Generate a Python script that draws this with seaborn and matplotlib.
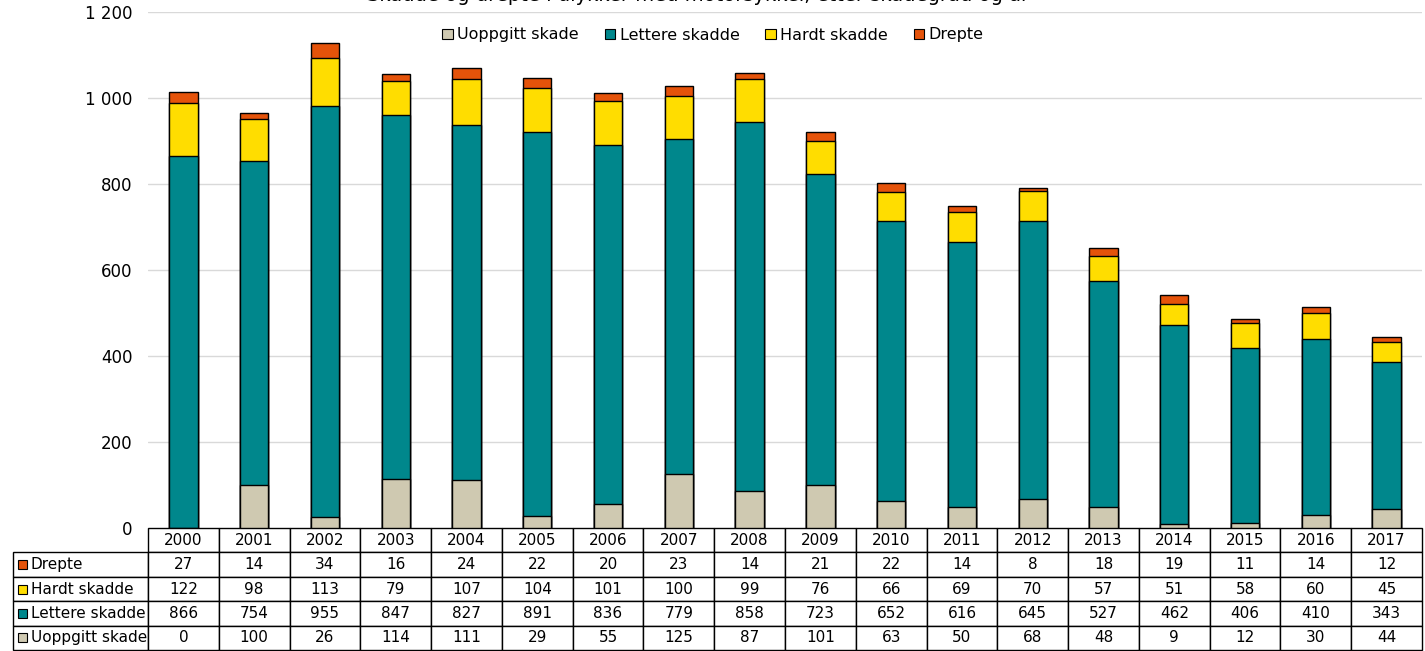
import matplotlib
matplotlib.use("Agg")
import matplotlib.pyplot as plt
import seaborn as sns
import numpy as np
import pandas as pd
from matplotlib.patches import Patch, Rectangle
from matplotlib.ticker import FuncFormatter

# ---- data ----
years = [str(y) for y in range(2000, 2018)]
drepte = [27, 14, 34, 16, 24, 22, 20, 23, 14, 21, 22, 14, 8, 18, 19, 11, 14, 12]
hardt = [122, 98, 113, 79, 107, 104, 101, 100, 99, 76, 66, 69, 70, 57, 51, 58, 60, 45]
lettere = [866, 754, 955, 847, 827, 891, 836, 779, 858, 723, 652, 616, 645, 527, 462, 406, 410, 343]
uoppgitt = [0, 100, 26, 114, 111, 29, 55, 125, 87, 101, 63, 50, 68, 48, 9, 12, 30, 44]
series_names = ["Uoppgitt skade", "Lettere skadde", "Hardt skadde", "Drepte"]
title = "Skadde og drepte i ulykker med motorsykkel, etter skadegrad og år"

colors = {
    "Uoppgitt skade": "#CFC9B1",
    "Lettere skadde": "#00878C",
    "Hardt skadde": "#FFDD00",
    "Drepte": "#E5530A",
}

sns.set_theme(style="white")
plt.rcParams["font.family"] = ["DejaVu Sans"]
plt.rcParams["text.color"] = "black"
plt.rcParams["axes.labelcolor"] = "black"
plt.rcParams["xtick.color"] = "black"
plt.rcParams["ytick.color"] = "black"

W, H = 1425, 651
fig = plt.figure(figsize=(W / 100, H / 100), dpi=100)
ax_l, ax_r, ax_t, ax_b = 148, 1422, 12, 528
ax = fig.add_axes([ax_l / W, 1 - ax_b / H, (ax_r - ax_l) / W, (ax_b - ax_t) / H])

df = pd.DataFrame({
    "year": years,
    "Uoppgitt skade": uoppgitt,
    "Lettere skadde": lettere,
    "Hardt skadde": hardt,
    "Drepte": drepte,
})
cum = df[series_names].cumsum(axis=1)

# draw cumulative bars from top layer to bottom layer (overlap-stacking)
for name in reversed(series_names):
    sns.barplot(x=df["year"], y=cum[name], order=years, color=colors[name],
                saturation=1, edgecolor="black", linewidth=1, width=0.4, ax=ax,
                zorder=3)

ax.set_ylim(0, 1200)
ax.set_xlim(-0.5, len(years) - 0.5)
ax.set_yticks(range(0, 1201, 200))
ax.yaxis.set_major_formatter(FuncFormatter(lambda v, p: f"{v:,.0f}".replace(",", " ")))
ax.tick_params(axis="y", length=0, pad=11, labelsize=12, colors="black")
ax.set_xticks([])
ax.set_xlabel("")
ax.set_ylabel("")
ax.grid(axis="y", color="#D9D9D9", linewidth=1, zorder=0)
ax.set_axisbelow(True)
for s in ax.spines.values():
    s.set_visible(False)

# ---- data table ----
rows = [("Drepte", drepte), ("Hardt skadde", hardt),
        ("Lettere skadde", lettere), ("Uoppgitt skade", uoppgitt)]
cell_text = [[name] + [str(v) for v in vals] for name, vals in rows]
col_labels = [""] + years
label_w_px = 135
tab_left_px = 13
ax_w_px = ax_r - ax_l
ax_h_px = ax_b - ax_t
col_w_px = ax_w_px / len(years)
col_widths = [label_w_px] + [col_w_px] * len(years)
tab_h_px = 122
row_h_px = tab_h_px / 5

tbl = ax.table(cellText=cell_text, colLabels=col_labels, colWidths=col_widths,
               cellLoc="center",
               bbox=[(tab_left_px - ax_l) / ax_w_px, -tab_h_px / ax_h_px,
                     (ax_r - tab_left_px) / ax_w_px, tab_h_px / ax_h_px])
tbl.auto_set_font_size(False)
tbl.set_fontsize(11)
for (r, c), cell in tbl.get_celld().items():
    cell.set_edgecolor("black")
    cell.set_linewidth(1)
    cell.get_text().set_color("black")
    if r == 0 and c == 0:
        cell.visible_edges = ""
    if c == 0 and r > 0:
        cell._loc = "left"
        cell.get_text().set_ha("left")
        cell.PAD = 18 / label_w_px

# legend keys in table row labels
sq = 9
for i, (name, _) in enumerate(rows):
    cy = -(row_h_px * (1.5 + i)) / ax_h_px
    ax.add_patch(Rectangle(((18 - ax_l) / ax_w_px, cy - (sq / 2) / ax_h_px),
                           sq / ax_w_px, sq / ax_h_px, transform=ax.transAxes,
                           facecolor=colors[name], edgecolor="black",
                           linewidth=0.8, clip_on=False, zorder=5))

# ---- legend ----
handles = [Patch(facecolor=colors[n], edgecolor="black", linewidth=0.8) for n in series_names]
leg = fig.legend(handles, series_names, loc="center", bbox_to_anchor=(713 / W, 1 - 35 / H),
                 ncol=4, frameon=False, fontsize=11.5, handlelength=0.65, handleheight=0.65,
                 handletextpad=0.3, columnspacing=1.6)
for t in leg.get_texts():
    t.set_color("black")

# ---- title (clipped at top as in reference) ----
fig.text(698 / W, 1 - 1 / H, title, ha="center", va="baseline", fontsize=14, color="black")

fig.savefig("out.png", dpi=100)
